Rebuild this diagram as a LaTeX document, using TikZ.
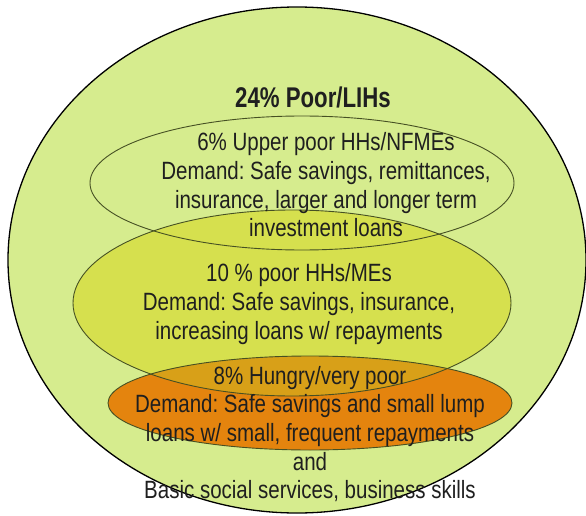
\documentclass[tikz,border=0pt]{standalone}
\usepackage{fontspec}
\setmainfont[FakeStretch=0.82]{Liberation Sans}
\newfontfamily\headfont[FakeStretch=0.78]{Liberation Sans}
\frenchspacing
\begin{document}
\definecolor{outerfill}{RGB}{214,236,142}
\definecolor{midfill}{RGB}{214,224,78}
\definecolor{lowfill}{RGB}{228,132,14}
\definecolor{overlapfill}{RGB}{216,160,24}
\definecolor{ringline}{RGB}{70,80,35}
\begin{tikzpicture}[x=1pt,y=-1pt,
  bodytext/.style={align=center,text=black!88,
    font=\fontsize{25}{28.7}\selectfont},
  titletext/.style={text=black!88,font=\headfont\fontsize{28.5}{31}\selectfont\bfseries},
  ring/.style={draw=ringline,line width=0.9pt}]
\useasboundingbox (0,0) rectangle (586,516);
% population as a whole
\fill[outerfill] (297,260) ellipse [x radius=289pt, y radius=253pt];
% segment fills, lowest one on top
\fill[midfill] (292,303) ellipse [x radius=219pt, y radius=93pt];
\fill[lowfill] (310,403) ellipse [x radius=202pt, y radius=47pt];
\begin{scope}
  \clip (292,303) ellipse [x radius=219pt, y radius=93pt];
  \fill[overlapfill] (310,403) ellipse [x radius=202pt, y radius=47pt];
\end{scope}
% outlines
\draw[black,line width=1.3pt] (297,260) ellipse [x radius=289pt, y radius=253pt];
\draw[ring] (302,183) ellipse [x radius=212pt, y radius=67pt];
\draw[ring] (292,303) ellipse [x radius=219pt, y radius=93pt];
\draw[ring] (310,403) ellipse [x radius=202pt, y radius=47pt];
% labels
\node[titletext] (title) at (313,97) {24\% Poor/LIHs};
\node[bodytext] (upper) at (326,185) {6\% Upper poor HHs/NFMEs\\Demand: Safe savings, remittances,\\insurance, larger and longer term\\investment loans};
\node[bodytext] (poor) at (299,304) {10 \% poor HHs/MEs\\Demand: Safe savings, insurance,\\increasing loans w/ repayments};
\node[bodytext] (hungry) at (310,434) {8\% Hungry/very poor\\Demand: Safe savings and small lump\\loans w/ small, frequent repayments\\and\\Basic social services, business skills};
\end{tikzpicture}
\end{document}
